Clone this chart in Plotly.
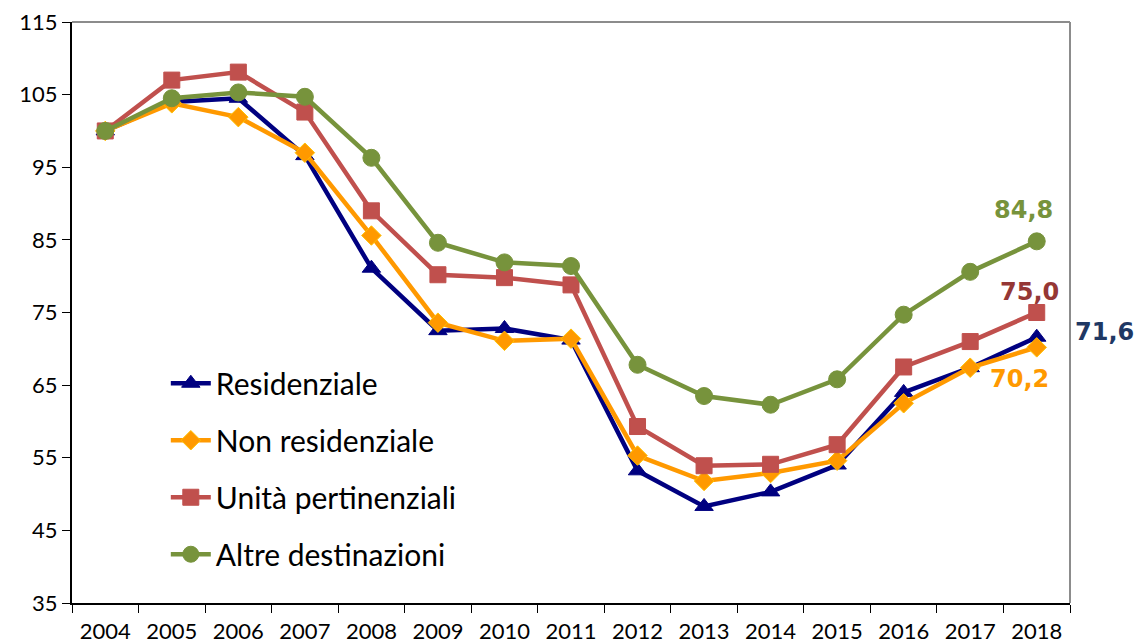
import plotly.graph_objects as go

years = [str(y) for y in range(2004, 2019)]
residenziale = [100, 104.0, 104.5, 96.6, 81.1, 72.5, 72.8, 71.2, 53.2, 48.3, 50.3, 54.0, 64.0, 67.4, 71.6]
non_residenziale = [100, 103.8, 101.9, 97.0, 85.6, 73.6, 71.1, 71.4, 55.3, 51.8, 52.9, 54.6, 62.5, 67.4, 70.2]
unita_pertinenziali = [100, 107.0, 108.1, 102.6, 89.0, 80.2, 79.8, 78.8, 59.3, 53.9, 54.1, 56.8, 67.5, 71.0, 75.0]
altre_destinazioni = [100, 104.5, 105.3, 104.7, 96.3, 84.6, 81.9, 81.4, 67.8, 63.5, 62.3, 65.8, 74.7, 80.6, 84.8]

series = [
    ("Residenziale", residenziale, "#000080", "triangle-up", 16, "#000080"),
    ("Non residenziale", non_residenziale, "#FF9900", "diamond", 15, "#FFC000"),
    ("Unità pertinenziali", unita_pertinenziali, "#C0504D", "square", 16, "#C0504D"),
    ("Altre destinazioni", altre_destinazioni, "#77933C", "circle", 17, "#77933C"),
]

fig = go.Figure()
for i, (name, vals, col, sym, sz, edge) in enumerate(series):
    fig.add_trace(go.Scatter(
        x=years, y=vals, name=name, mode="lines+markers",
        line=dict(color=col, width=4.5),
        marker=dict(symbol=sym, size=sz, color=col, line=dict(color=edge, width=1)),
        legendgroup=f"g{i}",
    ))

# end labels
labels = [
    (altre_destinazioni, "#77933C", -13, 31),
    (unita_pertinenziali, "#953735", -7, 21),
    (residenziale, "#1F3864", 68, 5),
    (non_residenziale, "#FF9900", -17, -32),
]
last = len(years) - 1
for vals, col, xs, ys in labels:
    fig.add_annotation(
        x=last, y=vals[-1], xref="x", yref="y",
        text=f"{vals[-1]:.1f}".replace(".", ","), showarrow=False,
        xshift=xs, yshift=ys,
        font=dict(family="DejaVu Sans", size=24, color=col, weight="bold"),
    )

# plot-area border (top and right, grey)
fig.add_shape(type="line", xref="paper", yref="paper", x0=1, x1=1, y0=0, y1=1,
              line=dict(color="#8C8C8C", width=2), layer="below")
fig.add_shape(type="line", xref="paper", yref="paper", x0=0, x1=1, y0=1, y1=1,
              line=dict(color="#8C8C8C", width=2), layer="below")

fig.update_layout(
    width=1137, height=643,
    margin=dict(l=72, r=67, t=22, b=40),
    paper_bgcolor="white", plot_bgcolor="white",
    font=dict(family="Lato", size=22, color="black"),
    showlegend=True,
    legend=dict(x=0.094, y=0.423, xanchor="left", yanchor="top",
                font=dict(family="Lato", size=30, color="black"),
                bgcolor="rgba(0,0,0,0)", tracegroupgap=15, itemwidth=40),
    xaxis=dict(type="category", tickson="boundaries", ticks="outside", ticklen=8,
               tickcolor="black", showline=True, linecolor="black", linewidth=2,
               showgrid=False, tickfont=dict(size=22), range=[-0.5, 14.5],
               ticklabelstandoff=8, automargin=False),
    yaxis=dict(range=[35, 115], dtick=10, tick0=35, ticks="outside", ticklen=8,
               tickcolor="black", showline=True, linecolor="black", linewidth=2,
               showgrid=False, zeroline=False, tickfont=dict(size=22),
               ticklabelstandoff=0, automargin=False),
)

fig.write_html("out.html", config={"displayModeBar": False},
               post_script="document.body.style.margin='0';")
